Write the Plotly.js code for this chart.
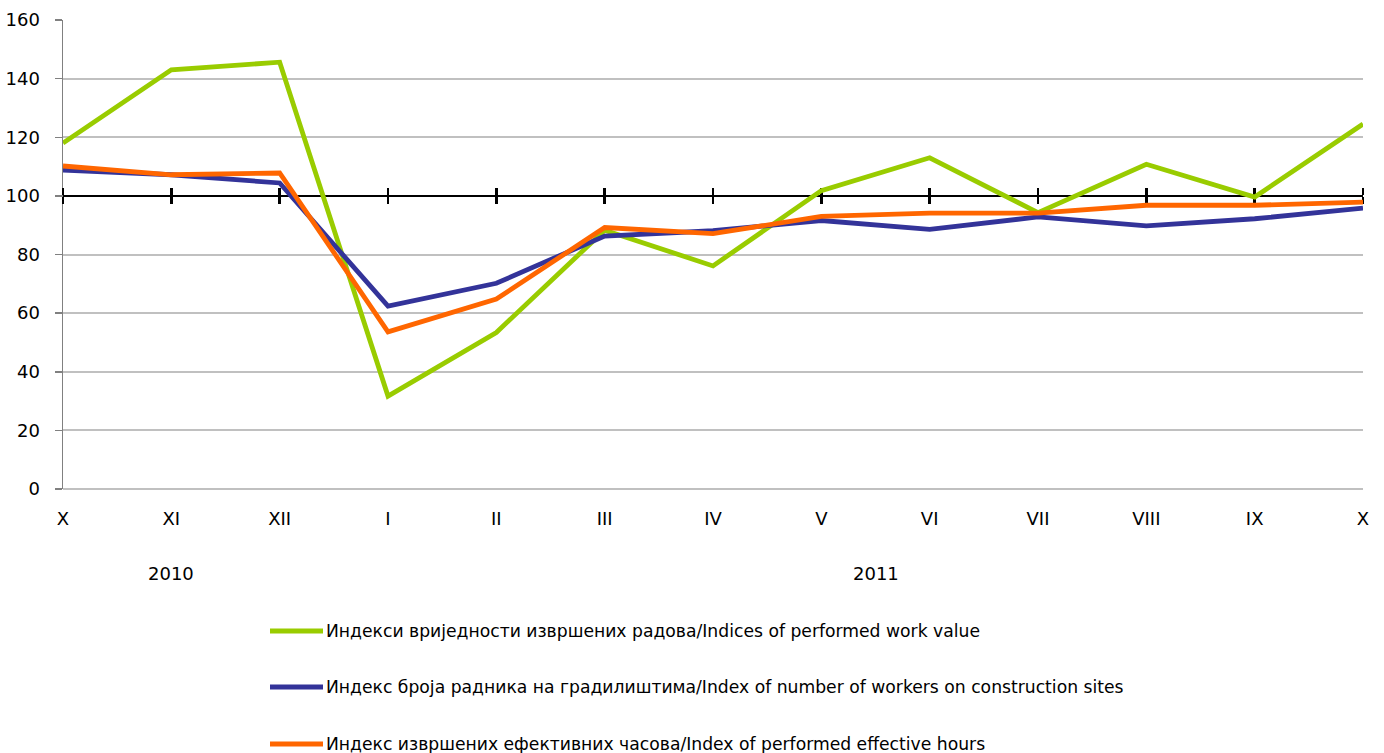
<!DOCTYPE html>
<html>
<head>
<meta charset="utf-8">
<script src="https://cdn.plot.ly/plotly-3.0.1.min.js"></script>
<style>html,body{margin:0;padding:0;background:#fff;}#chart{width:1384px;height:753px;}</style>
</head>
<body>
<div id="chart"></div>
<script>
const months = ["X","XI","XII","I","II","III","IV","V","VI","VII","VIII","IX","X"];
const years = ["2010","2011"];
const seriesNames = [
  "Индекси вриједности извршених радова/Indices of performed work value",
  "Индекс броја радника на градилиштима/Index of number of workers on construction sites",
  "Индекс извршених ефективних часова/Index of performed effective hours"
];
const workValue = [118, 143, 145.6, 31.7, 53.4, 88.3, 76.1, 101.8, 113, 94.3, 110.8, 99.6, 124.5];
const workers   = [108.8, 107.2, 104.4, 62.4, 70.2, 86.3, 88.1, 91.6, 88.6, 92.8, 89.8, 92.2, 95.8];
const hours     = [110.2, 107.2, 107.8, 53.6, 64.8, 89.2, 87.1, 93.0, 94.1, 94.1, 96.8, 96.8, 97.9];
const colors = ["#99CC00", "#333399", "#FF6600"];

const FONT = '"DejaVu Sans", Verdana, sans-serif';
const idx = months.map((m, i) => i);
const vals = [workValue, workers, hours];

const traces = vals.map((v, k) => ({
  x: idx, y: v, type: "scatter", mode: "lines", name: seriesNames[k],
  line: {color: colors[k], width: 4.8}, hoverinfo: "y", showlegend: false
}));
// helper invisible traces to carry the crossing axis at 100
traces.unshift({x: idx, y: workers, xaxis: "x2", yaxis: "y", mode: "lines", line: {width: 0, color: "rgba(0,0,0,0)"}, hoverinfo: "skip", showlegend: false});
traces.unshift({x: idx, y: workers, xaxis: "x3", yaxis: "y", mode: "lines", line: {width: 0, color: "rgba(0,0,0,0)"}, hoverinfo: "skip", showlegend: false});

const H = 469; // plot height in px
const legendY = [631, 687, 744].map(p => (489 - p) / H);
const shapes = [];
const annotations = [];
seriesNames.forEach((n, k) => {
  shapes.push({type: "line", xref: "paper", yref: "paper",
    x0: (270 - 63) / 1300, x1: (323 - 63) / 1300, y0: legendY[k], y1: legendY[k],
    line: {color: colors[k], width: 4.8}});
  annotations.push({xref: "paper", yref: "paper", x: (324 - 63) / 1300, y: legendY[k],
    xanchor: "left", yanchor: "middle", showarrow: false, text: n,
    font: {family: FONT, size: 17.2, color: "#000"}});
});
annotations.push({xref: "x", yref: "paper", x: 1, y: (489 - 573) / H, text: years[0],
  showarrow: false, xanchor: "center", yanchor: "middle", font: {family: FONT, size: 18, color: "#000"}});
annotations.push({xref: "x", yref: "paper", x: (3 + 12) / 2, y: (489 - 573) / H, text: years[1],
  showarrow: false, xanchor: "center", yanchor: "middle", font: {family: FONT, size: 18, color: "#000"}});

const crossAxis = {
  overlaying: "x", anchor: "free", position: 100 / 160, range: [0, 12],
  tickmode: "array", tickvals: idx, showticklabels: false, showgrid: false, zeroline: false,
  showline: true, linecolor: "#000", linewidth: 2.5, ticks: "outside", ticklen: 7,
  tickwidth: 2.5, tickcolor: "#000", layer: "below traces"
};

const layout = {
  width: 1384, height: 753,
  margin: {l: 63, r: 21, t: 20, b: 264},
  paper_bgcolor: "#fff", plot_bgcolor: "#fff",
  font: {family: FONT, size: 18, color: "#000"},
  showlegend: false,
  xaxis: {
    range: [0, 12], tickmode: "array", tickvals: idx, ticktext: months,
    showgrid: false, zeroline: false, showline: false, ticks: "",
    ticklabelstandoff: 17, tickfont: {family: FONT, size: 18, color: "#000"}
  },
  xaxis2: Object.assign({}, crossAxis, {side: "bottom"}),
  xaxis3: Object.assign({}, crossAxis, {side: "top"}),
  yaxis: {
    range: [0, 160], dtick: 20, tick0: 0,
    showgrid: true, gridcolor: "#c0c0c0", gridwidth: 2,
    zeroline: true, zerolinecolor: "#c0c0c0", zerolinewidth: 2,
    showline: true, linecolor: "#808080", linewidth: 1.5,
    ticks: "outside", ticklen: 7, tickcolor: "#808080", tickwidth: 1.5,
    ticklabelstandoff: 11, tickfont: {family: FONT, size: 18, color: "#000"},
    layer: "below traces"
  },
  shapes: shapes,
  annotations: annotations
};

Plotly.newPlot("chart", traces, layout, {displayModeBar: false, staticPlot: true});
</script>
</body>
</html>
